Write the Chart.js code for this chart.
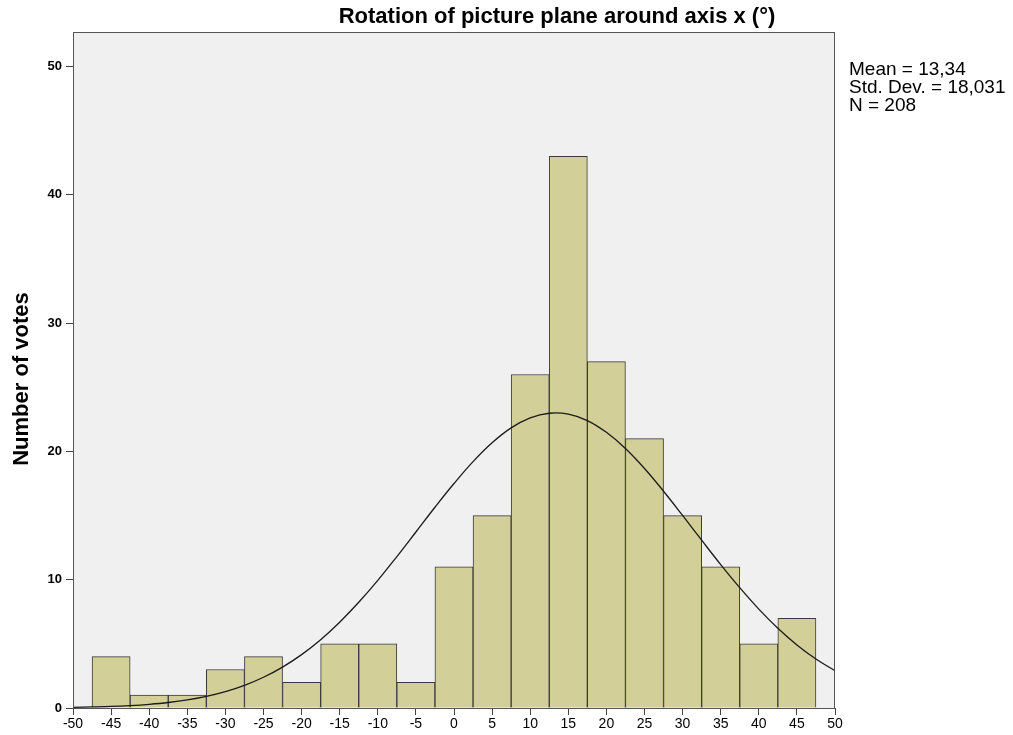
<!DOCTYPE html>
<html>
<head>
<meta charset="utf-8">
<script src="https://cdn.jsdelivr.net/npm/chart.js@4/dist/chart.umd.min.js"></script>
<style>
    html, body { margin: 0; padding: 0; background: #fff; }
    #wrap { width: 1013px; height: 735px; position: relative; }
</style>
</head>
<body>
<div id="wrap"><canvas id="hist"></canvas></div>
<script>
// bin centres (width 5) and counts
var binCenters = [-45, -40, -35, -30, -25, -20, -15, -10, -5, 0, 5, 10, 15, 20, 25, 30, 35, 40, 45];
var binCounts = [4, 1, 1, 3, 4, 2, 5, 5, 2, 11, 15, 26, 43, 27, 21, 15, 11, 5, 7];

// normal curve, every 2.5 units
var curveX = [-50, -47.5, -45, -42.5, -40, -37.5, -35, -32.5, -30, -27.5, -25, -22.5, -20, -17.5, -15, -12.5, -10, -7.5, -5, -2.5,
    0, 2.5, 5, 7.5, 10, 12.5, 15, 17.5, 20, 22.5, 25, 27.5, 30, 32.5, 35, 37.5, 40, 42.5, 45, 47.5, 50];
var curveY = [0.05, 0.08, 0.12, 0.19, 0.29, 0.43, 0.63, 0.91, 1.28, 1.77, 2.40, 3.19, 4.16, 5.33, 6.69, 8.24, 9.95, 11.80, 13.72, 15.65,
    17.50, 19.21, 20.68, 21.84, 22.62, 22.98, 22.91, 22.41, 21.49, 20.23, 18.67, 16.90, 15.01, 13.08, 11.18, 9.38, 7.71, 6.22, 4.92, 3.82, 2.91];

var xTicks = [-50, -45, -40, -35, -30, -25, -20, -15, -10, -5, 0, 5, 10, 15, 20, 25, 30, 35, 40, 45, 50];
var yTicks = [0, 10, 20, 30, 40, 50];

var chartTitle = 'Rotation of picture plane around axis x (°)';
var yTitle = 'Number of votes';
var statLines = ['Mean = 13,34', 'Std. Dev. = 18,031', 'N = 208'];

var FONT = '"Liberation Sans", Arial, sans-serif';

var decorations = {
    id: 'decorations',
    beforeDraw: function (chart) {
        var a = chart.chartArea, ctx = chart.ctx;
        ctx.save();
        ctx.fillStyle = '#f0f0f0';
        ctx.fillRect(a.left, a.top, a.right - a.left, a.bottom - a.top);
        ctx.restore();
    },
    afterDraw: function (chart) {
        var a = chart.chartArea, ctx = chart.ctx;
        ctx.save();
        ctx.strokeStyle = '#555';
        ctx.lineWidth = 1;
        ctx.strokeRect(a.left + 0.5, a.top + 0.5, a.right - a.left - 1, a.bottom - a.top);

        ctx.fillStyle = '#000';
        ctx.font = 'bold 22px ' + FONT;
        ctx.textAlign = 'center';
        ctx.textBaseline = 'middle';
        ctx.fillText(chartTitle, 557, 17);

        ctx.font = '19px ' + FONT;
        ctx.textAlign = 'left';
        for (var i = 0; i < statLines.length; i++) {
            ctx.fillText(statLines[i], 849, 70 + i * 18);
        }

        ctx.translate(22, 379);
        ctx.rotate(-Math.PI / 2);
        ctx.font = 'bold 22px ' + FONT;
        ctx.textAlign = 'center';
        ctx.fillText(yTitle, 0, 0);
        ctx.restore();
    }
};

new Chart(document.getElementById('hist').getContext('2d'), {
    type: 'bar',
    data: {
        datasets: [
            {
                type: 'line',
                data: curveX.map(function (x, i) { return { x: x, y: curveY[i] }; }),
                borderColor: '#1a1a1a',
                borderWidth: 1.3,
                pointRadius: 0,
                tension: 0.4,
                fill: false,
                order: 0
            },
            {
                type: 'bar',
                data: binCenters.map(function (x, i) { return { x: x, y: binCounts[i] }; }),
                backgroundColor: '#d3cf98',
                borderColor: '#3a3a3a',
                borderWidth: 1,
                borderSkipped: 'bottom',
                barPercentage: 1,
                categoryPercentage: 1,
                grouped: false,
                order: 1
            }
        ]
    },
    options: {
        responsive: true,
        maintainAspectRatio: false,
        animation: false,
        layout: { padding: { left: 0, top: 32, right: 178, bottom: 0 } },
        plugins: {
            legend: { display: false },
            tooltip: { enabled: false }
        },
        scales: {
            x: {
                type: 'linear',
                offset: false,
                min: -50,
                max: 50,
                afterBuildTicks: function (axis) {
                    axis.ticks = xTicks.map(function (v) { return { value: v }; });
                },
                afterFit: function (axis) { axis.height = 27; },
                grid: { drawOnChartArea: false, tickLength: 7, color: '#444', offset: false },
                border: { color: '#444' },
                ticks: {
                    autoSkip: false,
                    maxRotation: 0,
                    padding: 1,
                    color: '#000',
                    font: { size: 14, family: FONT }
                }
            },
            y: {
                min: 0,
                max: 52.7,
                afterBuildTicks: function (axis) {
                    axis.ticks = yTicks.map(function (v) { return { value: v }; });
                },
                afterFit: function (axis) { axis.width = 73; },
                grid: { drawOnChartArea: false, tickLength: 7, color: '#444' },
                border: { color: '#444' },
                ticks: {
                    padding: 4,
                    color: '#000',
                    font: { size: 13, weight: 'bold', family: FONT }
                }
            }
        }
    },
    plugins: [decorations]
});
</script>
</body>
</html>
